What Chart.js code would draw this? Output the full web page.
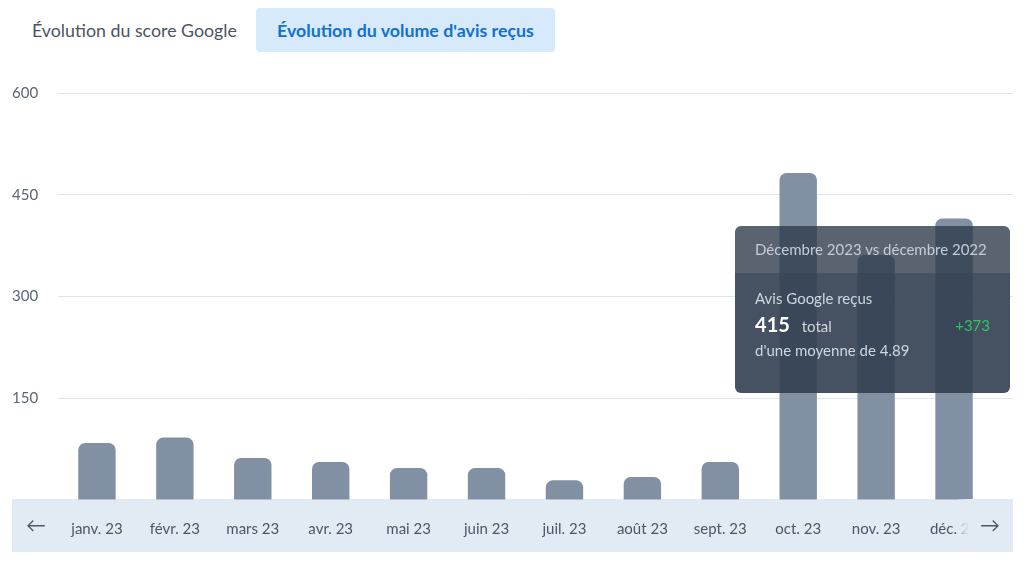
<!DOCTYPE html>
<html lang="fr">
<head>
<meta charset="utf-8">
<script src="https://cdn.jsdelivr.net/npm/chart.js@4.4.1/dist/chart.umd.min.js"></script>
<style>
    body { margin: 0; width: 1030px; height: 571px; background: #fff; font-family: Lato, 'Noto Sans', sans-serif; overflow: hidden; position: relative; }
    .tab { position: absolute; top: 8px; height: 44px; line-height: 44px; font-size: 17.8px; border-radius: 4px; }
    .tab.off { left: 12px; padding: 0 20px; color: #4a5463; }
    .tab.on { left: 256px; width: 299px; padding-left: 21px; box-sizing: border-box; background: #d7eafc; color: #1170d2; font-weight: bold; }
    .band { position: absolute; left: 12px; top: 499px; width: 1001px; height: 53px; background: #e2eaf3; }
    .nav { position: absolute; top: 499px; height: 53px; line-height: 51px; font-size: 20px; color: #4c596b; }
    .nav.prev { left: 12px; width: 46px; padding-left: 14px; box-sizing: border-box; }
    .nav.next { left: 957px; width: 56px; padding-left: 23px; box-sizing: border-box; background: linear-gradient(to right, rgba(226,234,243,0.2) 0px, rgba(226,234,243,0.8) 7px, #e2eaf3 13px); }
    canvas { position: absolute; left: 0; top: 0; }
    #tip { position: absolute; width: 275px; border-radius: 6px; overflow: hidden; color: #cfd6df; font-size: 15px; display: none; }
    #tip .head { background: rgba(44,57,73,0.78); height: 47px; line-height: 47px; padding-left: 20px; color: #c3ccd7; }
    #tip .body { background: rgba(50,63,80,0.9); padding: 12px 20px 30px 20px; position: relative; }
    #tip .big { font-size: 20px; font-weight: bold; color: #fff; margin-right: 8px; }
    #tip .row { height: 26px; line-height: 26px; }
    #tip .diff { position: absolute; right: 20px; top: 39px; color: #2fc764; line-height: 26px; }
</style>
</head>
<body>
<div class="tab off">Évolution du score Google</div>
<div class="tab on">Évolution du volume d'avis reçus</div>
<div class="band"></div>
<canvas id="volumeChart" width="1030" height="571"></canvas>
<div class="nav prev">&#8592;</div>
<div class="nav next">&#8594;</div>
<div id="tip"></div>
<script>
const months = ['janv. 23', 'févr. 23', 'mars 23', 'avr. 23', 'mai 23', 'juin 23', 'juil. 23', 'août 23', 'sept. 23', 'oct. 23', 'nov. 23', 'déc. 23'];
const fullMonths = ['Janvier', 'Février', 'Mars', 'Avril', 'Mai', 'Juin', 'Juillet', 'Août', 'Septembre', 'Octobre', 'Novembre', 'Décembre'];
const reviews = [84, 92, 62, 56, 47, 47, 29, 34, 56, 482, 361, 415];
const reviewsPrevYear = [null, null, null, null, null, null, null, null, null, null, null, 42];
const averages = [null, null, null, null, null, null, null, null, null, null, null, 4.89];
const yTicks = [0, 150, 300, 450, 600];
const activeIndex = 11;
const gridColor = '#dfe5ed';

function renderTooltip(context) {
    const tip = document.getElementById('tip');
    const model = context.tooltip;
    if (model.opacity === 0 || !model.dataPoints || !model.dataPoints.length) {
        tip.style.display = 'none';
        return;
    }
    const i = model.dataPoints[0].dataIndex;
    const month = fullMonths[i];
    const diff = reviews[i] - reviewsPrevYear[i];
    tip.innerHTML = `
        <div class="head">${month} 2023 vs ${month.toLowerCase()} 2022</div>
        <div class="body">
            <div class="row">Avis Google reçus</div>
            <div class="row"><span class="big">${reviews[i]}</span> total</div>
            <div class="row">d'une moyenne de ${averages[i]}</div>
            <div class="diff">${diff >= 0 ? '+' : ''}${diff}</div>
        </div>
    `;
    tip.style.display = 'block';
    tip.style.left = (model.caretX - 219) + 'px';
    tip.style.top = (model.caretY + 8) + 'px';
}

// the grid keeps going under the "next" button, past the last category
const gridExtend = {
    id: 'gridExtend',
    beforeDatasetsDraw(chart) {
        const { ctx, chartArea, scales } = chart;
        ctx.save();
        ctx.strokeStyle = gridColor;
        ctx.lineWidth = 1;
        scales.y.ticks.forEach(t => {
            if (t.value === 0) return;
            const y = Math.round(scales.y.getPixelForValue(t.value) - 0.5) + 0.5;
            ctx.beginPath();
            ctx.moveTo(chartArea.right, y);
            ctx.lineTo(1013, y);
            ctx.stroke();
        });
        ctx.restore();
    }
};

const chart = new Chart(document.getElementById('volumeChart'), {
    type: 'bar',
    data: {
        labels: months,
        datasets: [{
            label: 'Avis Google reçus',
            data: reviews,
            backgroundColor: '#8191a3',
            hoverBackgroundColor: '#8191a3',
            borderRadius: { topLeft: 7, topRight: 7 },
            borderSkipped: 'bottom',
            barPercentage: 0.48,
            categoryPercentage: 1
        }]
    },
    options: {
        responsive: false,
        animation: false,
        layout: { padding: { left: 12, right: 37, top: 93, bottom: 19 } },
        plugins: {
            legend: { display: false },
            tooltip: { enabled: false, external: renderTooltip }
        },
        scales: {
            x: {
                afterFit: scale => { scale.height = 52; },
                grid: { display: false, drawTicks: false },
                border: { display: false },
                ticks: {
                    color: '#4b5668',
                    font: { family: 'Lato', size: 15 },
                    padding: 20,
                    maxRotation: 0,
                    autoSkip: false
                }
            },
            y: {
                min: yTicks[0],
                max: yTicks[yTicks.length - 1],
                afterBuildTicks: scale => { scale.ticks = yTicks.map(v => ({ value: v })); },
                afterFit: scale => { scale.width = 46; },
                grid: {
                    drawTicks: false,
                    color: ctx => ctx.tick && ctx.tick.value === 0 ? 'rgba(0,0,0,0)' : gridColor
                },
                border: { display: false },
                ticks: {
                    crossAlign: 'far',
                    padding: 0,
                    color: '#5b6676',
                    font: { family: 'Lato', size: 15 },
                    callback: v => v === 0 ? '' : v
                }
            }
        }
    },
    plugins: [gridExtend]
});

const bar = chart.getDatasetMeta(0).data[activeIndex];
chart.setActiveElements([{ datasetIndex: 0, index: activeIndex }]);
chart.tooltip.setActiveElements([{ datasetIndex: 0, index: activeIndex }], { x: bar.x, y: bar.y });
chart.update();
</script>
</body>
</html>
